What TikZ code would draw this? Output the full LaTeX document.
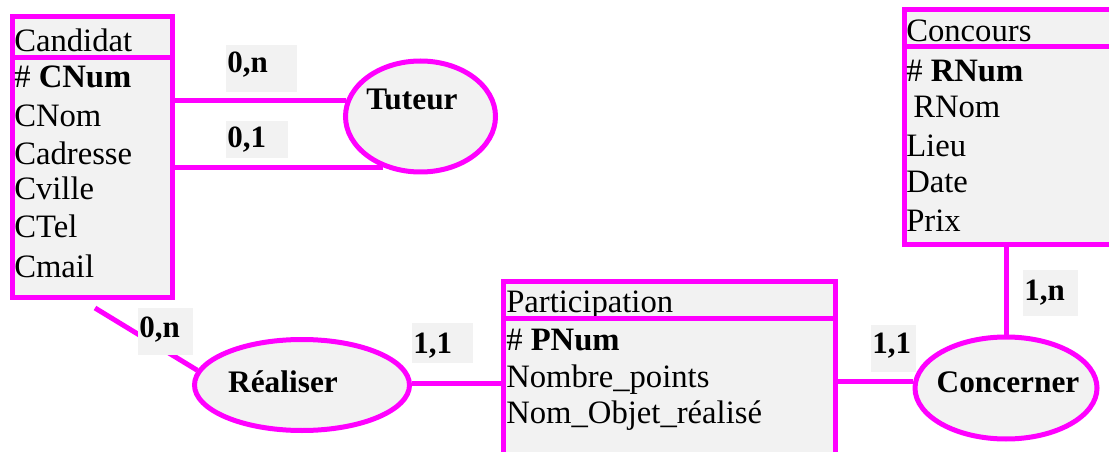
\documentclass[tikz,border=0pt]{standalone}
\usepackage{fontspec}
\setmainfont{Liberation Serif}
\usetikzlibrary{shapes.geometric}
\definecolor{mag}{HTML}{FF00FF}
\definecolor{bgg}{HTML}{F2F2F2}
\tikzset{
  entity/.style={draw=mag, fill=bgg, line width=3.75pt, rectangle, inner sep=0pt},
  assoc/.style={draw=mag, fill=bgg, line width=3.75pt, ellipse, inner sep=0pt},
  link/.style={draw=mag, line width=3.75pt},
  divider/.style={draw=mag, line width=3.75pt},
  cardbg/.style={fill=bgg},
  attr/.style={anchor=base west, inner sep=0pt, font=\fontsize{24.5}{28}\selectfont},
  card/.style={anchor=base west, inner sep=0pt, font=\fontsize{23.25}{27}\selectfont\bfseries},
  assocname/.style={anchor=base, inner sep=0pt, font=\fontsize{23.5}{27}\selectfont\bfseries}
}
\begin{document}
\begin{tikzpicture}[x=0.75pt,y=-0.75pt]
\clip (0,0) rectangle (1109,452);
% entities
\node[entity, minimum width=120pt, minimum height=210pt] (cand) at (92,157) {};
\node[entity, minimum width=162pt, minimum height=176.25pt] (cours) at (1012,127.5) {};
\node[entity, minimum width=249pt, minimum height=141.75pt] (part) at (669,375.5) {};
% associations
\node[assoc, minimum width=112.5pt, minimum height=83.25pt] (tut) at (420.5,116.5) {};
\node[assoc, minimum width=161.25pt, minimum height=68.25pt] (real) at (302,385) {};
\node[assoc, minimum width=136.5pt, minimum height=76.5pt] (conc) at (1006,388) {};
% connectors
\draw[link] (cand.east |- tut.168) -- (tut.168);
\draw[link] (cand.east |- tut.234) -- (tut.234);
\coordinate (rs) at (95,308);
\draw[link] (rs) -- (real.172);
\draw[link] (real.1) -- (real.1 -| part.west);
\draw[link] (part.east |- conc.176) -- (conc.176);
\draw[link] (conc.north) -- (conc.north |- cours.south);
% cardinality backgrounds
\fill[cardbg] (226,45) rectangle (297,92);
\fill[cardbg] (226,121) rectangle (288,158);
\fill[cardbg] (138,308) rectangle (193,355);
\fill[cardbg] (412,323) rectangle (473,363);
\fill[cardbg] (871,325) rectangle (916,372);
\fill[cardbg] (1023,270) rectangle (1078,316);
% cardinalities
\node[card] (c1) at (227,73) {0,n};
\node[card] (c2) at (227,148) {0,1};
\node[card] (c3) at (139,337) {0,n};
\node[card] (c4) at (413,353) {1,1};
\node[card] (c5) at (872,353) {1,1};
\node[card] (c6) at (1024,300) {1,n};
% association names
\node[assocname] (tutn) at (412,110) {Tuteur};
\node[assocname] (realn) at (283,392) {Réaliser};
\node[assocname] (concn) at (1008,392) {Concerner};
% Candidat
\node[attr] (ca0) at (14,52) {Candidat};
\node[attr] (ca1) at (14,88) {\# \textbf{CNum}};
\node[attr] (ca2) at (14,127) {CNom};
\node[attr] (ca3) at (14,165) {Cadresse};
\node[attr] (ca4) at (14,200) {Cville};
\node[attr] (ca5) at (14,238) {CTel};
\node[attr] (ca6) at (14,277) {Cmail};
\draw[divider] (12,58) -- (172,58);
% Concours
\node[attr] (co0) at (906,42) {Concours};
\node[attr] (co1) at (906,82) {\# \textbf{RNum}};
\node[attr] (co2) at (913,118) {RNom};
\node[attr] (co3) at (906,157) {Lieu};
\node[attr] (co4) at (906,193) {Date};
\node[attr] (co5) at (906,232) {Prix};
\draw[divider] (904,47) -- (1120,47);
% Participation
\node[attr] (pa0) at (506,312) {Participation};
\node[attr] (pa1) at (506,350) {\# \textbf{PNum}};
\node[attr] (pa2) at (506,387) {Nombre\_points};
\node[attr] (pa3) at (506,423) {Nom\_Objet\_réalisé};
\draw[divider] (503,318) -- (835,318);
\end{tikzpicture}
\end{document}
